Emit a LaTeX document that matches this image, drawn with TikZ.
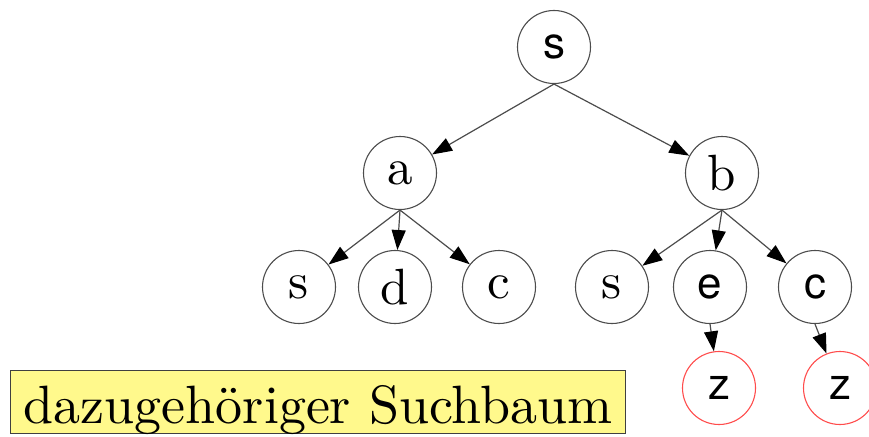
\documentclass[tikz,border=0pt]{standalone}
\usepackage{fontspec}
\newfontfamily\helv{TeX Gyre Heros}
\newfontfamily\lmten{lmroman10-regular}[Extension=.otf]
\usetikzlibrary{arrows.meta}
\tikzset{
  vertex/.style={circle, draw=black!70, line width=1.1pt, minimum size=73pt, inner sep=0pt,
                 font=\lmten\fontsize{51}{60}\selectfont},
  svertex/.style={vertex, font=\helv\fontsize{44}{52}\selectfont},
  goal/.style={svertex, draw=red!70!white},
  edge/.style={draw=black!70, line width=1.2pt,
               -{Triangle[length=20pt,width=14pt,fill=black,color=black]}},
  caption/.style={draw=black!75, line width=1pt, fill=yellow!45, inner sep=0pt,
                  minimum width=615pt, text height=53pt, text depth=10pt,
                  font=\lmten\fontsize{54}{64}\selectfont}
}
\begin{document}
\begin{tikzpicture}[x=1pt, y=-1pt]
  \useasboundingbox (0,0) rectangle (869,436);
  % search tree
  \node[svertex] (s)  at (554,47)  {s};
  \node[vertex]  (a)  at (400,173) {a};
  \node[vertex]  (b)  at (722,173) {b};
  \node[vertex]  (as) at (299,287) {s};
  \node[vertex]  (ad) at (395,287) {d};
  \node[vertex]  (ac) at (499,287) {c};
  \node[vertex]  (bs) at (612,287) {s};
  \node[svertex] (be) at (710,287) {e};
  \node[svertex] (bc) at (815,287) {c};
  \node[goal]    (z1) at (719,388) {z};
  \node[goal]    (z2) at (840,388) {z};
  % edges leave from the bottom of each parent
  \draw[edge] (s.south) -- (a);
  \draw[edge] (s.south) -- (b);
  \draw[edge] (a.south) -- (as);
  \draw[edge] (a.south) -- (ad);
  \draw[edge] (a.south) -- (ac);
  \draw[edge] (b.south) -- (bs);
  \draw[edge] (b.south) -- (be);
  \draw[edge] (b.south) -- (bc);
  \draw[edge] (be.south) -- (z1);
  \draw[edge] (bc.south) -- (z2);
  % caption
  \node[caption, anchor=north west] (cap) at (10,370) {dazugeh\"origer Suchbaum};
\end{tikzpicture}
\end{document}
